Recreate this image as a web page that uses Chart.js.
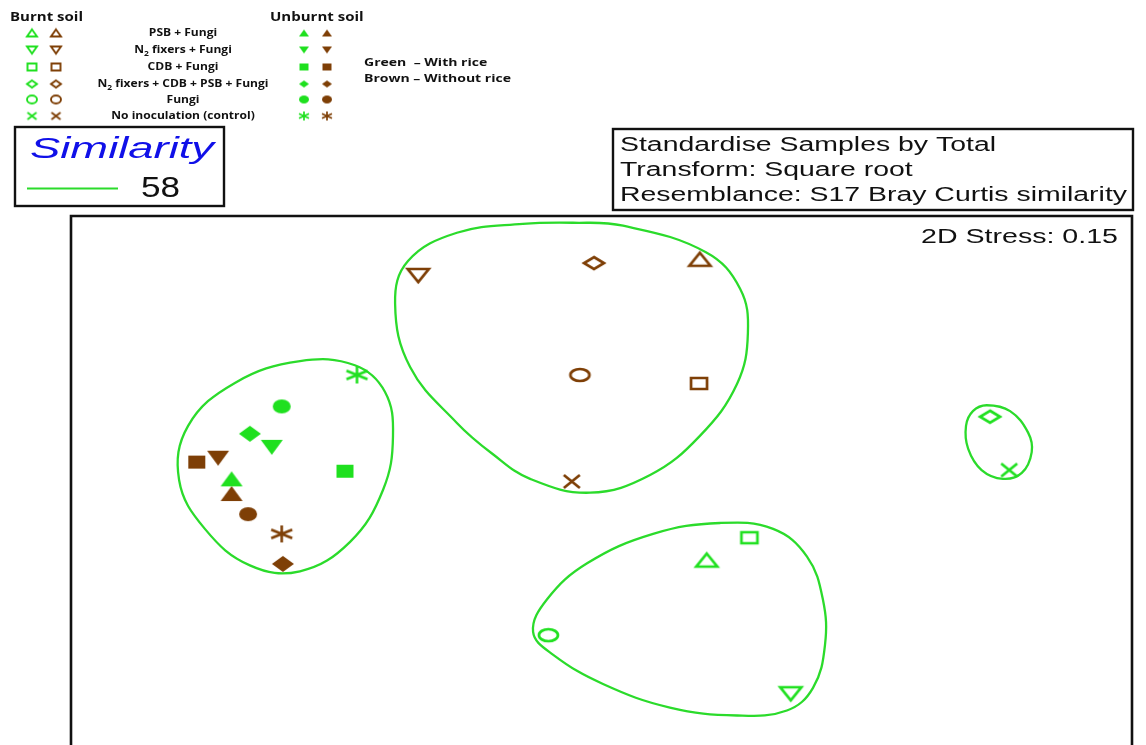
<!DOCTYPE html>
<html>
<head>
<meta charset="utf-8">
<script src="https://cdn.jsdelivr.net/npm/chart.js@4/dist/chart.umd.min.js"></script>
<style>
  html, body { margin: 0; padding: 0; background: #ffffff; }
  #wrap { width: 1146px; height: 745px; position: relative; }
</style>
</head>
<body>
<div id="wrap"><canvas id="mds" width="1146" height="745"></canvas></div>
<script>
// nMDS ordination of soil samples (Bray-Curtis on square-root transformed, standardised data)
const treatments = ['PSB + Fungi', 'N2 fixers + Fungi', 'CDB + Fungi',
                    'N2 fixers + CDB + PSB + Fungi', 'Fungi', 'No inoculation (control)'];

// Unburnt soil, with rice (filled green)
const unburntRiceX = [-1.228, -1.094, -0.850, -1.167, -1.061, -0.810];
const unburntRiceY = [-0.013,  0.094,  0.013,  0.140,  0.233,  0.340];
// Unburnt soil, without rice (filled brown)
const unburntNoRiceX = [-1.228, -1.273, -1.344, -1.057, -1.173, -1.061];
const unburntNoRiceY = [-0.063,  0.057,  0.044, -0.302, -0.133, -0.200];
// Burnt soil, with rice (open green)
const burntRiceX = [0.356,  0.636,  0.498, 1.300, -0.172, 1.364];
const burntRiceY = [-0.289, -0.743, -0.213, 0.198, -0.544, 0.017];
// Burnt soil, without rice (open brown)
const burntNoRiceX = [0.333, -0.606, 0.330, -0.020, -0.067, -0.094];
const burntNoRiceY = [0.733,  0.678, 0.311,  0.720,  0.340, -0.022];

// Cluster outlines at 58 % similarity
const similarityLevel = 58;
const contourAX = [-1.000, -0.817, -0.717, -0.690, -0.723, -0.833, -1.000, -1.167, -1.317, -1.403, -1.373, -1.217];
const contourAY = [ 0.387,  0.373,  0.283,  0.133, -0.050, -0.227, -0.327, -0.307, -0.183, -0.017,  0.167,  0.313];
const contourBX = [-0.477, -0.257, -0.090, 0.077, 0.353, 0.467, 0.493, 0.457, 0.333, 0.167, -0.033, -0.233, -0.360, -0.477, -0.633, -0.683, -0.640];
const contourBY = [ 0.823,  0.853,  0.857, 0.847, 0.757, 0.633, 0.483, 0.310, 0.133, 0.000, -0.060, -0.013,  0.073,  0.177,  0.367,  0.583,  0.727];
const contourCX = [-0.223, -0.177, -0.043,  0.177,  0.400,  0.577,  0.690,  0.743,  0.750,  0.710,  0.623,  0.457,  0.233,  0.010, -0.157];
const contourCY = [-0.533, -0.423, -0.300, -0.200, -0.163, -0.183, -0.277, -0.423, -0.577, -0.723, -0.800, -0.817, -0.790, -0.710, -0.610];
const contourDX = [1.289, 1.367, 1.427, 1.439, 1.406,  1.343, 1.272, 1.227, 1.220, 1.243];
const contourDY = [0.237, 0.217, 0.144, 0.078, 0.007, -0.013, 0.017, 0.090, 0.167, 0.217];

const infoLines = ['Standardise Samples by Total', 'Transform: Square root',
                   'Resemblance: S17 Bray Curtis similarity'];
const stressLabel = '2D Stress: 0.15';

const GREEN = '#1fe01f';
const LINE_GREEN = '#2bdb2b';
const BROWN = '#7e3f06';
const BLUE = '#1010e8';

// ---------- marker images (slightly wider than tall) ----------
function marker(shape, color, filled, w, h, lw) {
  const pad = Math.ceil(lw) + 1;
  const c = document.createElement('canvas');
  c.width = Math.ceil(w + 2 * pad);
  c.height = Math.ceil(h + 2 * pad);
  const g = c.getContext('2d');
  g.translate(c.width / 2, c.height / 2);
  g.strokeStyle = color; g.fillStyle = color; g.lineWidth = lw;
  g.lineJoin = 'miter'; g.lineCap = 'butt';
  const hw = w / 2, hh = h / 2;
  g.beginPath();
  switch (shape) {
    case 'up': g.moveTo(0, -hh); g.lineTo(hw, hh); g.lineTo(-hw, hh); g.closePath(); break;
    case 'down': g.moveTo(-hw, -hh); g.lineTo(hw, -hh); g.lineTo(0, hh); g.closePath(); break;
    case 'square': g.rect(-hw, -hh, w, h); break;
    case 'diamond': g.moveTo(0, -hh); g.lineTo(hw, 0); g.lineTo(0, hh); g.lineTo(-hw, 0); g.closePath(); break;
    case 'circle': g.ellipse(0, 0, hw, hh, 0, 0, Math.PI * 2); break;
    case 'cross': g.moveTo(-hw, -hh); g.lineTo(hw, hh); g.moveTo(hw, -hh); g.lineTo(-hw, hh); break;
    case 'star':
      g.moveTo(0, -hh); g.lineTo(0, hh);
      g.moveTo(-hw, -hh * 0.5); g.lineTo(hw, hh * 0.5);
      g.moveTo(-hw, hh * 0.5); g.lineTo(hw, -hh * 0.5); break;
  }
  if (filled && shape !== 'cross' && shape !== 'star') g.fill(); else g.stroke();
  return c;
}

const unburntShapes = ['up', 'down', 'square', 'diamond', 'circle', 'star'];
const burntShapes = ['up', 'down', 'square', 'diamond', 'circle', 'cross'];
const bigSize = { up: [22, 15], down: [22, 15], square: [17, 13], diamond: [22, 16], circle: [18, 14], star: [21, 17], cross: [16, 13] };
const openSize = { up: [21, 13], down: [21, 13], square: [16, 11], diamond: [20, 12], circle: [19, 12], cross: [16, 13] };
const smallSize = { up: [10, 7], down: [10, 7], square: [9, 7], diamond: [10, 7], circle: [10, 8], star: [10, 9], cross: [9, 7] };

const filledStyles = (color) => unburntShapes.map(s => marker(s, color, true, bigSize[s][0], bigSize[s][1], 2.6));
const openStyles = (color) => burntShapes.map(s => marker(s, color, false, openSize[s][0], openSize[s][1], 2.7));

const toPoints = (xs, ys) => xs.map((x, i) => ({ x, y: ys[i] }));

// closed smooth outline: wrap the ring so every drawn segment has real neighbours
function ring(xs, ys) {
  const n = xs.length;
  const pts = toPoints(xs, ys);
  return [pts[n - 1], ...pts, pts[0], pts[1]];
}
function contourDataset(xs, ys) {
  const data = ring(xs, ys);
  const last = data.length - 1;
  return {
    type: 'scatter', data, showLine: true, pointRadius: 0, borderWidth: 2.3,
    borderColor: LINE_GREEN, tension: 0.4, fill: false, order: 5,
    segment: {
      borderColor: ctx => (ctx.p0DataIndex === 0 || ctx.p1DataIndex === last) ? 'rgba(0,0,0,0)' : LINE_GREEN
    }
  };
}

// ---------- text helpers (horizontally stretched type) ----------
function drawText(ctx, str, x, y, font, color, sx, align) {
  ctx.save();
  ctx.font = font; ctx.fillStyle = color; ctx.textAlign = 'left'; ctx.textBaseline = 'alphabetic';
  const w = ctx.measureText(str).width * sx;
  const x0 = align === 'center' ? x - w / 2 : (align === 'right' ? x - w : x);
  ctx.translate(x0, y); ctx.scale(sx, 1);
  ctx.fillText(str, 0, 0);
  ctx.restore();
}
function fitScale(ctx, str, font, width) {
  ctx.save(); ctx.font = font;
  const w = ctx.measureText(str).width;
  ctx.restore();
  return width / w;
}
// label with "N2" subscript support
function richParts(label) {
  if (label.startsWith('N2')) return [{ t: 'N' }, { t: '2', sub: true }, { t: label.slice(2) }];
  return [{ t: label }];
}
function richWidth(ctx, parts, font, subFont) {
  let w = 0;
  parts.forEach(p => { ctx.font = p.sub ? subFont : font; w += ctx.measureText(p.t).width; });
  return w;
}
function drawRich(ctx, parts, cx, y, font, subFont, color, sx) {
  ctx.save();
  const w = richWidth(ctx, parts, font, subFont) * sx;
  ctx.translate(cx - w / 2, y); ctx.scale(sx, 1);
  ctx.fillStyle = color; ctx.textBaseline = 'alphabetic'; ctx.textAlign = 'left';
  let x = 0;
  parts.forEach(p => {
    ctx.font = p.sub ? subFont : font;
    ctx.fillText(p.t, x, p.sub ? 2.5 : 0);
    x += ctx.measureText(p.t).width;
  });
  ctx.restore();
}

// ---------- decorations: frame, key, boxes ----------
const decorations = {
  id: 'decorations',
  beforeDraw(chart) {
    const ctx = chart.ctx;
    ctx.save();
    ctx.fillStyle = '#ffffff';
    ctx.fillRect(0, 0, chart.width, chart.height);
    ctx.restore();
  },
  afterDraw(chart) {
    const ctx = chart.ctx;
    const a = chart.chartArea;
    ctx.save();
    // plot frame
    ctx.strokeStyle = '#111'; ctx.lineWidth = 2.6;
    ctx.beginPath();
    ctx.moveTo(a.left, chart.height + 2); ctx.lineTo(a.left, a.top);
    ctx.lineTo(a.right, a.top); ctx.lineTo(a.right, chart.height + 2);
    ctx.stroke();

    // stress value
    const arial = '"Liberation Sans", Arial, sans-serif';
    const infoFont = '20px ' + arial;
    const sxInfo = fitScale(ctx, infoLines[2], infoFont, 507);
    drawText(ctx, stressLabel, 1118, 243, '20px ' + arial, '#111', fitScale(ctx, stressLabel, '20px ' + arial, 197), 'right');

    // method box
    ctx.lineWidth = 2.4; ctx.strokeStyle = '#111';
    ctx.strokeRect(613, 129, 520, 81);
    infoLines.forEach((t, i) => drawText(ctx, t, 620, 151 + i * 25, infoFont, '#111', sxInfo, 'left'));

    // similarity box
    ctx.strokeRect(15, 127, 209, 79);
    const simFont = 'italic 30px ' + arial;
    drawText(ctx, 'Similarity', 30, 158, simFont, BLUE, fitScale(ctx, 'Similarity', simFont, 184), 'left');
    ctx.strokeStyle = LINE_GREEN; ctx.lineWidth = 2.2;
    ctx.beginPath(); ctx.moveTo(27, 188.5); ctx.lineTo(118, 188.5); ctx.stroke();
    drawText(ctx, String(similarityLevel), 141, 197, '30px ' + arial, '#111', fitScale(ctx, '58', '30px ' + arial, 39), 'left');

    // key
    const sans = '"Open Sans", Lato, sans-serif';
    const headFont = 'bold 12.5px ' + sans;
    const sxHead = fitScale(ctx, 'Burnt soil', headFont, 73);
    drawText(ctx, 'Burnt soil', 10, 21, headFont, '#111', sxHead, 'left');
    drawText(ctx, 'Unburnt soil', 270, 21, headFont, '#111', sxHead, 'left');

    const labFont = 'bold 10px ' + sans, subFont = 'bold 7px ' + sans;
    const longest = richParts(treatments[3]);
    const sxLab = 171 / richWidth(ctx, longest, labFont, subFont);
    const rows = [33, 50, 67, 84, 99.5, 116];
    treatments.forEach((t, i) => {
      drawRich(ctx, richParts(t), 183, rows[i] + 3, labFont, subFont, '#111', sxLab);
      const bs = burntShapes[i], us = unburntShapes[i];
      const sb = smallSize[bs], su = smallSize[us];
      const mg = marker(bs, GREEN, false, sb[0], sb[1], 1.9);
      const mb = marker(bs, BROWN, false, sb[0], sb[1], 1.9);
      const ug = marker(us, GREEN, true, su[0], su[1], 1.7);
      const ub = marker(us, BROWN, true, su[0], su[1], 1.7);
      ctx.drawImage(mg, 32 - mg.width / 2, rows[i] - mg.height / 2);
      ctx.drawImage(mb, 56 - mb.width / 2, rows[i] - mb.height / 2);
      ctx.drawImage(ug, 304 - ug.width / 2, rows[i] - ug.height / 2);
      ctx.drawImage(ub, 327 - ub.width / 2, rows[i] - ub.height / 2);
    });

    const noteFont = 'bold 10.5px ' + sans;
    const sxNote = fitScale(ctx, 'Brown \u2013 Without rice', noteFont, 147);
    drawText(ctx, 'Green  \u2013 With rice', 364, 66, noteFont, '#111', sxNote, 'left');
    drawText(ctx, 'Brown \u2013 Without rice', 364, 82, noteFont, '#111', sxNote, 'left');
    ctx.restore();
  }
};

const groupDataset = (label, xs, ys, styles) => ({
  label, data: toPoints(xs, ys), pointStyle: styles, pointRadius: 9,
  showLine: false, order: 1
});

new Chart(document.getElementById('mds'), {
  type: 'scatter',
  data: {
    datasets: [
      groupDataset('Unburnt soil, with rice', unburntRiceX, unburntRiceY, filledStyles(GREEN)),
      groupDataset('Unburnt soil, without rice', unburntNoRiceX, unburntNoRiceY, filledStyles(BROWN)),
      groupDataset('Burnt soil, with rice', burntRiceX, burntRiceY, openStyles(GREEN)),
      groupDataset('Burnt soil, without rice', burntNoRiceX, burntNoRiceY, openStyles(BROWN)),
      contourDataset(contourAX, contourAY),
      contourDataset(contourBX, contourBY),
      contourDataset(contourCX, contourCY),
      contourDataset(contourDX, contourDY)
    ]
  },
  options: {
    responsive: false,
    devicePixelRatio: 1,
    animation: false,
    layout: { padding: { left: 71, top: 216, right: 14, bottom: 0 } },
    scales: {
      x: { type: 'linear', min: -1.7633, max: 1.7733, display: false },
      y: { type: 'linear', min: -0.8833, max: 0.88, display: false }
    },
    plugins: { legend: { display: false }, tooltip: { enabled: false } }
  },
  plugins: [decorations]
});
</script>
</body>
</html>
